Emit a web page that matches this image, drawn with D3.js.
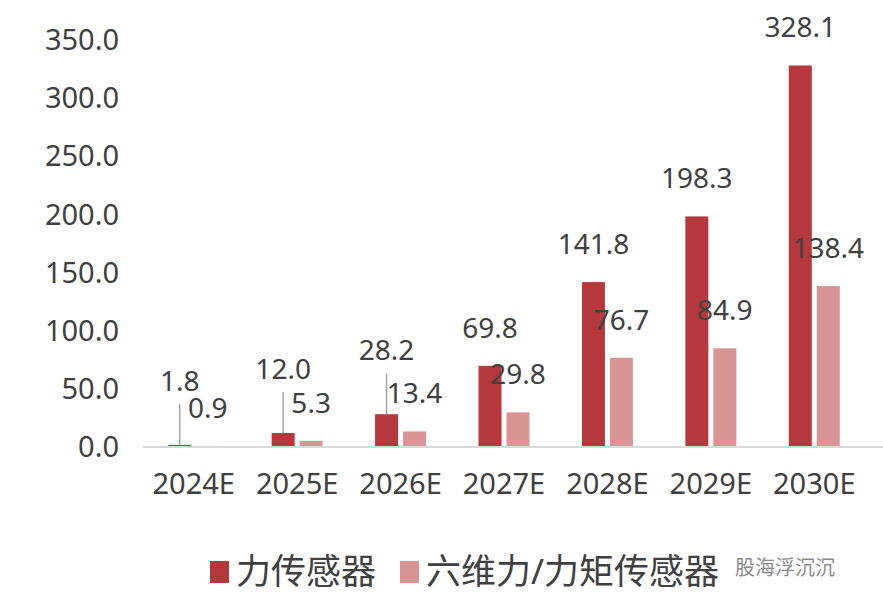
<!DOCTYPE html>
<html><head><meta charset="utf-8">
<script src="https://cdn.jsdelivr.net/npm/d3@7"></script>
<style>body{margin:0;background:#fff}text{font-family:"Noto Sans","Noto Sans CJK SC",sans-serif;fill:#404040}</style>
</head><body><div id="chart"></div>
<script>
const years = ["2024E","2025E","2026E","2027E","2028E","2029E","2030E"];
const forceSensor = [1.8, 12.0, 28.2, 69.8, 141.8, 198.3, 328.1];
const sixAxisSensor = [0.9, 5.3, 13.4, 29.8, 76.7, 84.9, 138.4];
const yTicks = [0, 50, 100, 150, 200, 250, 300, 350];
const seriesNames = ["力传感器", "六维力/力矩传感器"];
const colors = ["#b5393c", "#d99594"];

const W = 883, H = 601;
const svg = d3.select("#chart").append("svg").attr("width", W).attr("height", H);

const x = d3.scaleBand().domain(years).range([142, 866]);
const y = d3.scaleLinear().domain([0, 350]).range([447, 40]);
const barW = 23, gap = 5;
const cx = d => x(d) + x.bandwidth() / 2;

// y tick labels
svg.selectAll(".yt").data(yTicks).join("text")
  .attr("x", 119).attr("y", d => y(d)).attr("dy", "0.35em")
  .attr("text-anchor", "end").style("font-size", "29px")
  .text(d => d.toFixed(1));

// x labels
svg.selectAll(".xt").data(years).join("text")
  .attr("x", d => cx(d)).attr("y", 494)
  .attr("text-anchor", "middle").style("font-size", "29px")
  .text(d => d);

[forceSensor, sixAxisSensor].forEach((vals, s) => {
  const bx = d => s === 0 ? cx(d) - gap / 2 - barW : cx(d) + gap / 2;
  const raised = (i) => s === 0 && vals[i] < 30;
  svg.selectAll(".b" + s).data(years).join("rect")
    .attr("x", d => bx(d)).attr("width", barW)
    .attr("y", (d, i) => y(vals[i])).attr("height", (d, i) => y(0) - y(vals[i]))
    .attr("fill", colors[s]);

  svg.selectAll(".l" + s).data(years).join("text")
    .attr("x", d => bx(d) + barW / 2)
    .attr("y", (d, i) => y(vals[i]) - (raised(i) ? 64 : 38))
    .attr("dy", "0.35em").attr("text-anchor", "middle").style("font-size", "28px")
    .text((d, i) => vals[i].toFixed(1));

  if (s === 0) {
    svg.selectAll(".ld").data(years.filter((d, i) => raised(i))).join("line")
      .attr("x1", d => bx(d) + barW / 2).attr("x2", d => bx(d) + barW / 2)
      .attr("y1", d => y(vals[years.indexOf(d)]) - 41)
      .attr("y2", d => y(vals[years.indexOf(d)]))
      .attr("stroke", "#a6a6a6").attr("stroke-width", 1.5);
  }
});

// axis line
svg.append("line").attr("x1", 143).attr("x2", 883).attr("y1", y(0)).attr("y2", y(0))
  .attr("stroke", "#d9d9d9").attr("stroke-width", 2);

// legend
const leg = [[210, 236], [400, 426]];
seriesNames.forEach((n, i) => {
  svg.append("rect").attr("x", leg[i][0]).attr("y", 561).attr("width", 19).attr("height", 22).attr("fill", colors[i]);
  svg.append("text").attr("x", leg[i][1]).attr("y", 572).attr("dy", "0.35em")
    .style("font-size", "35px").text(n);
});
svg.append("text").attr("x", 735).attr("y", 568).attr("dy", "0.35em")
  .style("font-size", "20px").style("fill", "#8c8c8c").text("股海浮沉沉");
</script></body></html>
